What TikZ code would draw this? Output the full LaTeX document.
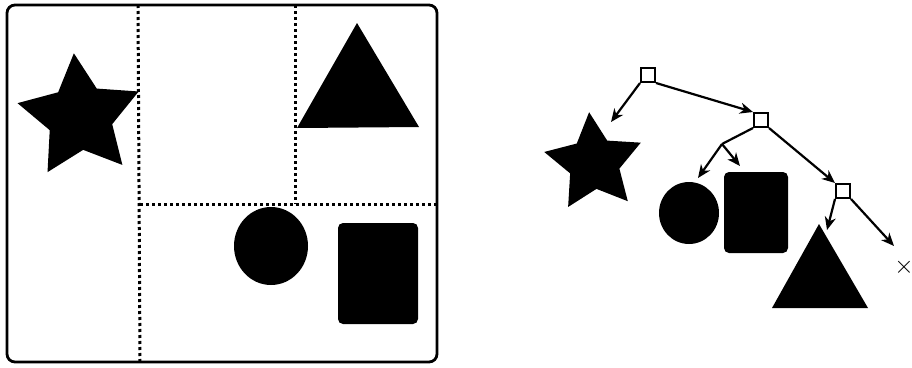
\documentclass[tikz,border=0pt]{standalone}
\usetikzlibrary{arrows.meta}
\begin{document}
\begin{tikzpicture}[x=1pt,y=-1pt,
  frame/.style={line width=2.8pt, rounded corners=8pt},
  dotline/.style={line width=3pt, dash pattern=on 3pt off 3pt},
  solid shape/.style={fill=black},
  treenode/.style={draw, line width=2pt, fill=white, minimum size=14pt, inner sep=0pt},
  edgearrow/.style={line width=2.2pt, -{Stealth[length=13pt,width=11pt,inset=4pt]}},
  ]
\useasboundingbox (0,0) rectangle (912,367);
% ---- left panel ----
\draw[frame] (7,5) rectangle (437,362);
\draw[dotline] (138,5) -- (140,362);
\draw[dotline] (295,5) -- (295,204);
\draw[dotline] (140,204) -- (437,204);
\begin{scope}[shift={(80,117)}]
  \fill[solid shape] (-95.5:64) -- (-59.5:33) -- (-23.5:64) -- (12.5:33) -- (48.5:64) -- (84.5:33) -- (120.5:64) -- (156.5:33) -- (192.5:64) -- (228.5:33) -- cycle;
\end{scope}
\fill[solid shape] (357,23) -- (297,128) -- (419,127) -- cycle;
\fill[solid shape] (271,246) ellipse [x radius=37pt, y radius=39pt];
\fill[solid shape, rounded corners=5pt] (338,223) rectangle (418,324);
% ---- right panel ----
\begin{scope}[shift={(594,163)}]
  \fill[solid shape] (-95.5:51) -- (-59.5:26) -- (-23.5:51) -- (12.5:26) -- (48.5:51) -- (84.5:26) -- (120.5:51) -- (156.5:26) -- (192.5:51) -- (228.5:26) -- cycle;
\end{scope}
\fill[solid shape] (689,213) ellipse [x radius=30pt, y radius=31pt];
\fill[solid shape, rounded corners=5pt] (724,172) rectangle (788,253);
\fill[solid shape] (819,224) -- (772,308) -- (868,308) -- cycle;
\node[treenode] (r) at (648,75) {};
\node[treenode] (m) at (761,120) {};
\node[treenode] (n) at (843,191) {};
\node[inner sep=0pt, font=\fontsize{30}{34}\selectfont] (x) at (904,267) {$\times$};
\coordinate (tstar) at (611,122);
\coordinate (split) at (722,144);
\coordinate (tcirc) at (698,178);
\coordinate (trect) at (740,166);
\coordinate (ttri) at (827,230);
\coordinate (tx) at (894,246);
\draw[edgearrow] (r.south west) -- (tstar);
\draw[edgearrow] (r.south east) -- (m.north west);
\draw[line width=2.2pt] (m.south west) -- (split);
\draw[edgearrow] (split) -- (tcirc);
\draw[edgearrow] (split) -- (trect);
\draw[edgearrow] (m.south east) -- (n.north west);
\draw[edgearrow] (n.south west) -- (ttri);
\draw[edgearrow] (n.south east) -- (tx);
\end{tikzpicture}
\end{document}
